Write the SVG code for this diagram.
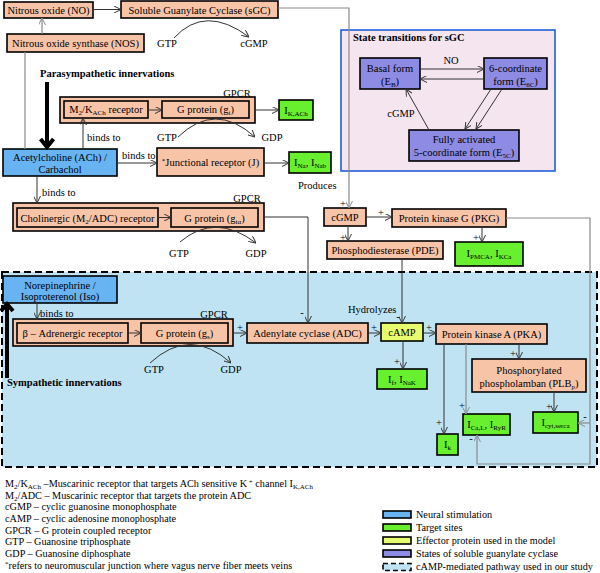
<svg xmlns="http://www.w3.org/2000/svg" width="600" height="573" viewBox="0 0 600 573">
<style>
text{font-family:"Liberation Serif","Times New Roman",serif;font-size:10.5px;fill:#000}
.c{text-anchor:middle}
.bd{font-weight:bold}
.s{font-size:7px}
.lg{font-size:10.2px}
.sal{fill:#f8c4a8;stroke:#000;stroke-width:1.6}
.grn{fill:#68f02e;stroke:#000;stroke-width:1.6}
.blu{fill:#68b3f2;stroke:#000;stroke-width:1.6}
.pur{fill:#8e8be4;stroke:#000;stroke-width:1.6}
.yel{fill:#e6fb6e;stroke:#000;stroke-width:1.6}
.dk{stroke:#333;stroke-width:1;fill:none;marker-end:url(#ad)}
.gy{stroke:#8a8a8a;stroke-width:1.2;fill:none;marker-end:url(#ag)}
.gyn{stroke:#8a8a8a;stroke-width:1.2;fill:none}
.dkn{stroke:#333;stroke-width:1;fill:none}
.thick{stroke:#000;stroke-width:4;fill:none}
</style>
<defs>
<marker id="ad" viewBox="0 0 10 10" refX="10" refY="5" markerWidth="7" markerHeight="7" markerUnits="userSpaceOnUse" orient="auto"><path d="M0,0 L10,5 L0,10" fill="none" stroke="#333" stroke-width="1.4"/></marker>
<marker id="ag" viewBox="0 0 10 10" refX="10" refY="5" markerWidth="7" markerHeight="7" markerUnits="userSpaceOnUse" orient="auto"><path d="M0,0 L10,5 L0,10" fill="none" stroke="#8a8a8a" stroke-width="1.4"/></marker>
</defs>
<rect width="600" height="573" fill="#fff"/>

<g id="camp-region"><rect x="2" y="272" width="595" height="195" fill="#bfe3f3" stroke="#000" stroke-width="2" stroke-dasharray="7,4"/></g>

<g id="sgc-states">
<rect x="341" y="30" width="214" height="141" fill="#f4e5ef" stroke="#1f5fd6" stroke-width="1.6"/>
<text x="353" y="40.5" class="bd">State transitions for sGC</text>
<g id="basal"><rect x="360" y="58" width="60" height="31" class="pur"/><text x="390" y="72" class="c">Basal form</text><text x="390" y="84.5" class="c">(E<tspan class="s" dy="2">B</tspan><tspan dy="-2">)</tspan></text></g>
<g id="six-coord"><rect x="484" y="58" width="63" height="31" class="pur"/><text x="515.5" y="72" class="c">6-coordinate</text><text x="515.5" y="84.5" class="c">form (E<tspan class="s" dy="2">6C</tspan><tspan dy="-2">)</tspan></text></g>
<g id="five-coord"><rect x="409" y="130" width="110" height="31" class="pur"/><text x="464" y="143" class="c">Fully activated</text><text x="464" y="156" class="c">5-coordinate form (E<tspan class="s" dy="2">5C</tspan><tspan dy="-2">)</tspan></text></g>
</g>

<g id="no"><rect x="4" y="2" width="89" height="16" class="sal"/><text x="48.5" y="14" class="c">Nitrous oxide (NO)</text></g>
<g id="sgc"><rect x="121" y="1" width="157" height="17" class="sal"/><text x="199.5" y="13.5" class="c">Soluble Guanylate Cyclase (sGC)</text></g>
<g id="nos"><rect x="7" y="34" width="137" height="18" class="sal"/><text x="75.5" y="46.5" class="c">Nitrous oxide synthase (NOS)</text></g>

<g id="gpcr1"><rect x="60" y="97" width="195" height="26" class="sal"/><text x="237" y="96.5" class="c">GPCR</text>
<g id="m2k"><rect x="64" y="101" width="84" height="17" class="sal"/><text x="106" y="113" class="c">M<tspan class="s" dy="2">2</tspan><tspan dy="-2">/K</tspan><tspan class="s" dy="2">ACh</tspan><tspan dy="-2"> receptor</tspan></text></g>
<g id="gi"><rect x="162" y="101" width="87" height="17" class="sal"/><text x="205.5" y="113" class="c">G protein (g<tspan class="s" dy="2">i</tspan><tspan dy="-2">)</tspan></text></g>
</g>
<g id="ikach"><rect x="279" y="100" width="34" height="20" class="grn"/><text x="296" y="113.5" class="c">I<tspan class="s" dy="2">K,ACh</tspan></text></g>

<g id="ach"><rect x="3" y="149" width="114" height="27" class="blu"/><text x="60" y="160.5" class="c">Acetylcholine (ACh) /</text><text x="60" y="172.5" class="c">Carbachol</text></g>
<g id="junc"><rect x="157" y="148" width="107" height="28" class="sal"/><text x="210.5" y="165.5" class="c"><tspan class="s" dy="-3">*</tspan><tspan dy="3">Junctional receptor (J)</tspan></text></g>
<g id="ina"><rect x="289" y="152" width="42" height="21" class="grn"/><text x="310" y="166" class="c">I<tspan class="s" dy="2">Na</tspan><tspan dy="-2">, I</tspan><tspan class="s" dy="2">Nab</tspan></text></g>

<g id="gpcr2"><rect x="13" y="203" width="251" height="28" class="sal"/><text x="247" y="202" class="c">GPCR</text>
<g id="m2adc"><rect x="17" y="208" width="141" height="19" class="sal"/><text x="87.5" y="221.5" class="c">Cholinergic (M<tspan class="s" dy="2">2</tspan><tspan dy="-2">/ADC) receptor</tspan></text></g>
<g id="gia"><rect x="171" y="208" width="87" height="19" class="sal"/><text x="214.5" y="221.5" class="c">G protein (g<tspan class="s" dy="2">iα</tspan><tspan dy="-2">)</tspan></text></g>
</g>

<g id="cgmp"><rect x="324" y="208" width="42" height="18" class="sal"/><text x="345" y="221" class="c">cGMP</text></g>
<g id="pkg"><rect x="392" y="209" width="114" height="18" class="sal"/><text x="449" y="222" class="c">Protein kinase G (PKG)</text></g>
<g id="pde"><rect x="327" y="241" width="116" height="18" class="sal"/><text x="385" y="254" class="c">Phosphodiesterase (PDE)</text></g>
<g id="ipmca"><rect x="455" y="242" width="68" height="24" class="grn"/><text x="489" y="257" class="c">I<tspan class="s" dy="2">PMCA</tspan><tspan dy="-2">, I</tspan><tspan class="s" dy="2">KCa</tspan></text></g>

<g id="ne"><rect x="3" y="276" width="114" height="27" class="blu"/><text x="60" y="288.5" class="c">Norepinephrine /</text><text x="60" y="300" class="c">Isoproterenol (Iso)</text></g>
<g id="gpcr3"><rect x="13" y="319" width="220" height="27" class="sal"/><text x="214" y="317.5" class="c">GPCR</text>
<g id="beta"><rect x="17" y="323" width="111" height="20" class="sal"/><text x="72.5" y="336.5" class="c">β – Adrenergic receptor</text></g>
<g id="gs"><rect x="141" y="323" width="87" height="20" class="sal"/><text x="184.5" y="336.5" class="c">G protein (g<tspan class="s" dy="2">s</tspan><tspan dy="-2">)</tspan></text></g>
</g>
<g id="adc"><rect x="247" y="323" width="121" height="20" class="sal"/><text x="307.5" y="337" class="c">Adenylate cyclase (ADC)</text></g>
<g id="camp"><rect x="381" y="323" width="42" height="18" class="yel"/><text x="402" y="336" class="c">cAMP</text></g>
<g id="pka"><rect x="436" y="324" width="111" height="20" class="sal"/><text x="491.5" y="338" class="c">Protein kinase A (PKA)</text></g>
<g id="ifnak"><rect x="377" y="369" width="50" height="20" class="grn"/><text x="402" y="383" class="c">I<tspan class="s" dy="2">f</tspan><tspan dy="-2">, I</tspan><tspan class="s" dy="2">NaK</tspan></text></g>
<g id="plb"><rect x="472" y="359" width="114" height="33" class="sal"/><text x="529" y="374" class="c">Phosphorylated</text><text x="529" y="387" class="c">phospholamban (PLB<tspan class="s" dy="2">p</tspan><tspan dy="-2">)</tspan></text></g>
<g id="icyt"><rect x="533" y="412" width="45" height="21" class="grn"/><text x="555.5" y="425.5" class="c">I<tspan class="s" dy="2">cyt,serca</tspan></text></g>
<g id="ical"><rect x="463" y="414" width="47" height="21" class="grn"/><text x="486.5" y="428" class="c">I<tspan class="s" dy="2">Ca,L</tspan><tspan dy="-2">, I</tspan><tspan class="s" dy="2">RyR</tspan></text></g>
<g id="ik"><rect x="437" y="434" width="21" height="21" class="grn"/><text x="447.5" y="448" class="c">I<tspan class="s" dy="2">k</tspan></text></g>

<g id="connectors">
<line x1="93" y1="9.5" x2="121" y2="9.5" class="dk"/>
<line x1="42" y1="34" x2="42" y2="18" class="gy"/>
<line x1="25" y1="149" x2="25" y2="52" class="gyn"/>
<polyline points="278,8 349,8 349,208" class="gy"/>
<path d="M174,38 Q205,4 249,37" class="dk"/>
<line x1="47" y1="82" x2="47" y2="145" class="thick"/>
<polyline points="40.5,139 47,147 53.5,139" class="thick"/>
<line x1="148" y1="110" x2="162" y2="110" class="dk"/>
<line x1="255" y1="110" x2="279" y2="110" class="dk"/>
<path d="M178,137 Q215,101 255,137" class="dk"/>
<line x1="83" y1="149" x2="83" y2="118" class="dk"/>
<line x1="117" y1="163" x2="157" y2="163" class="dk"/>
<line x1="264" y1="163" x2="289" y2="163" class="dk"/>
<line x1="37" y1="176" x2="37" y2="203" class="dk"/>
<line x1="158" y1="217.5" x2="171" y2="217.5" class="dk"/>
<path d="M180,242 Q215,212 256,243" class="dk"/>
<polyline points="264,217 308,217 308,323" class="dk"/>
<line x1="366" y1="217" x2="392" y2="217" class="dk"/>
<line x1="348" y1="226" x2="348" y2="241" class="dk"/>
<line x1="482" y1="227" x2="482" y2="242" class="dk"/>
<polyline points="402,259 402,323" class="dk"/>
<polyline points="506,218 590,218 590,464 477,464 477,435" class="gy"/>
<line x1="590" y1="423" x2="578" y2="423" class="gy"/>
<line x1="420" y1="69" x2="484" y2="69" class="dk"/>
<line x1="484" y1="79" x2="420" y2="79" class="dk"/>
<line x1="491" y1="89" x2="465" y2="129" class="dk"/>
<line x1="502" y1="89" x2="476" y2="129" class="dk"/>
<line x1="429" y1="130" x2="406" y2="89" class="dk"/>
<line x1="7" y1="378" x2="7" y2="307" class="thick"/>
<polyline points="1,311 7,304 13,311" class="thick"/>
<line x1="37" y1="303" x2="37" y2="319" class="dk"/>
<line x1="128" y1="333" x2="141" y2="333" class="dk"/>
<path d="M150,363 Q190,326 231,363" class="dk"/>
<line x1="233" y1="333" x2="247" y2="333" class="dk"/>
<line x1="368" y1="333" x2="381" y2="333" class="dk"/>
<line x1="423" y1="333" x2="436" y2="333" class="dk"/>
<line x1="403" y1="341" x2="403" y2="369" class="dk"/>
<line x1="519" y1="344" x2="519" y2="359" class="dk"/>
<line x1="554" y1="392" x2="554" y2="412" class="dk"/>
<line x1="466" y1="344" x2="466" y2="414" class="gy"/>
<line x1="444" y1="344" x2="444" y2="434" class="dk"/>
</g>

<g id="labels">
<text x="167" y="47" class="c">GTP</text>
<text x="254" y="47" class="c">cGMP</text>
<text x="40" y="77" class="bd">Parasympathetic innervations</text>
<text x="167" y="141" class="c">GTP</text>
<text x="272" y="141" class="c">GDP</text>
<text x="87" y="140.5">binds to</text>
<text x="122" y="158.5">binds to</text>
<text x="298" y="189">Produces</text>
<text x="42" y="195.5">binds to</text>
<text x="179" y="257" class="c">GTP</text>
<text x="256" y="257" class="c">GDP</text>
<text x="302" y="316" class="c">-</text>
<text x="343" y="207" class="c">+</text>
<text x="381" y="216" class="c">+</text>
<text x="343" y="240.5" class="c">+</text>
<text x="476" y="240.5" class="c">+</text>
<text x="451" y="63.5" class="c">NO</text>
<text x="401" y="116.5" class="c">cGMP</text>
<text x="7" y="385.5" class="bd">Sympathetic innervations</text>
<text x="40" y="316.5">binds to</text>
<text x="154" y="373" class="c">GTP</text>
<text x="231" y="373" class="c">GDP</text>
<text x="240" y="331" class="c">+</text>
<text x="374" y="331" class="c">+</text>
<text x="429" y="330.5" class="c">+</text>
<text x="348" y="313">Hydrolyzes</text>
<text x="398" y="320" class="c">-</text>
<text x="397" y="365" class="c">+</text>
<text x="513" y="357" class="c">+</text>
<text x="549" y="410" class="c">+</text>
<text x="462" y="409" class="c">+</text>
<text x="439" y="426" class="c">+</text>
<text x="585" y="420" class="c">-</text>
<text x="471" y="442" class="c">-</text>
</g>

<g id="legend">
<text x="5" y="487" class="lg">M<tspan class="s" dy="2">2</tspan><tspan dy="-2">/K</tspan><tspan class="s" dy="2">ACh</tspan><tspan dy="-2"> –Muscarinic receptor that targets ACh sensitive K</tspan><tspan class="s" dy="-3"> +</tspan><tspan dy="3"> channel I</tspan><tspan class="s" dy="2">K,ACh</tspan></text>
<text x="5" y="498.5" class="lg">M<tspan class="s" dy="2">2</tspan><tspan dy="-2">/ADC – Muscarinic receptor that targets the protein ADC</tspan></text>
<text x="5" y="510" class="lg">cGMP – cyclic guanosine monophosphate</text>
<text x="5" y="522" class="lg">cAMP – cyclic adenosine monophosphate</text>
<text x="5" y="533.5" class="lg">GPCR – G protein coupled receptor</text>
<text x="5" y="545" class="lg">GTP – Guanosine triphosphate</text>
<text x="5" y="556.5" class="lg">GDP – Guanosine diphosphate</text>
<text x="5" y="568.5" class="lg"><tspan class="s" dy="-3">*</tspan><tspan dy="3">refers to neuromuscular junction where vagus nerve fiber meets veins</tspan></text>
<rect x="383" y="511" width="28" height="7" class="blu"/><text x="416" y="517.5" class="lg">Neural stimulation</text>
<rect x="383" y="524" width="28" height="7" class="grn"/><text x="416" y="530.5" class="lg">Target sites</text>
<rect x="383" y="537" width="28" height="7" class="yel"/><text x="416" y="543.5" class="lg">Effector protein used in the model</text>
<rect x="383" y="550" width="28" height="7" class="pur"/><text x="416" y="556.5" class="lg">States of soluble guanylate cyclase</text>
<rect x="383" y="563.5" width="28" height="7" fill="#bfe3f3" stroke="#000" stroke-width="1.6" stroke-dasharray="5,3"/><text x="416" y="570" class="lg">cAMP-mediated pathway used in our study</text>
</g>
</svg>
